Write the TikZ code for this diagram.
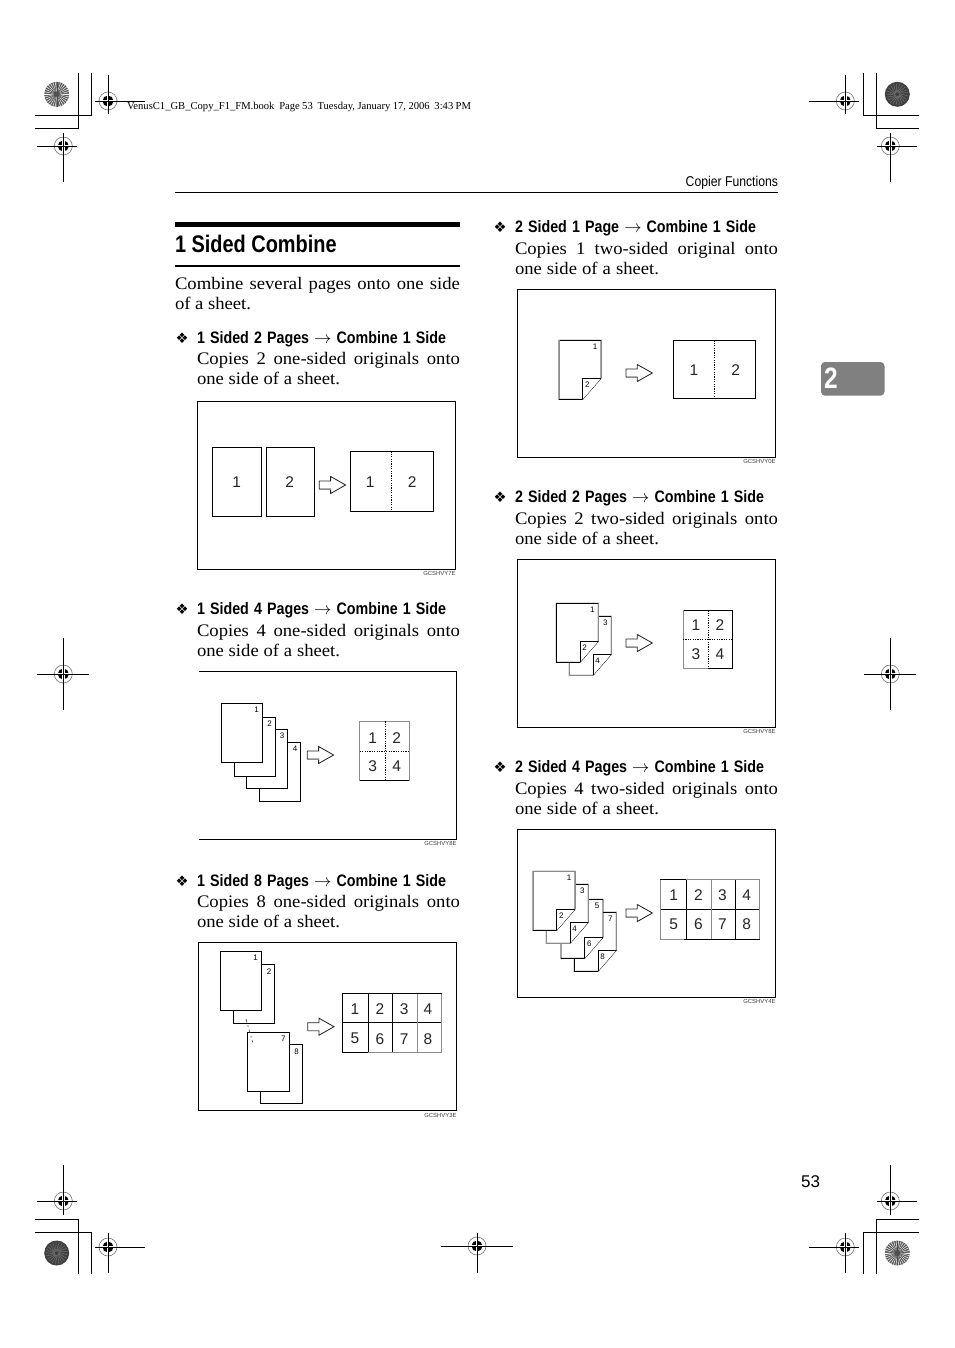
\documentclass[tikz,border=0pt]{standalone}
\usepackage{fontspec}
\newfontfamily\bodyf[FakeStretch=1.06]{Liberation Serif}
\newfontfamily\topf{Liberation Serif}
\newfontfamily\hdf[FakeStretch=.86]{Liberation Sans}
\newfontfamily\ttlf[FakeStretch=.83]{Liberation Sans}
\newfontfamily\numf{Liberation Sans}
\newfontfamily\symf{DejaVu Sans}
\definecolor{midgray}{HTML}{808080}
\definecolor{softgray}{HTML}{8A8A8A}
\tikzset{
  x=1pt,y=-1pt,
  txt/.style={inner sep=0pt,outer sep=0pt,anchor=base west,text=black},
  txtr/.style={inner sep=0pt,outer sep=0pt,anchor=base east,text=black},
  bignum/.style={inner sep=0pt,font=\numf\fontsize{15.5}{15.5}\selectfont,text=black!85},
  smallnum/.style={inner sep=0pt,font=\numf\fontsize{8}{8}\selectfont,text=black},
  codetxt/.style={inner sep=0pt,anchor=east,font=\numf\fontsize{5.9}{5.9}\selectfont,text=black!75},
  frameline/.style={draw=black,line width=.9pt},
  pageline/.style={draw=black,line width=.9pt,fill=white,line join=miter},
  resline/.style={draw=black,line width=.8pt},
  dotline/.style={draw=black,line width=.8pt,dash pattern=on 1.2pt off 1.2pt},
  cropline/.style={draw=black,line width=.8pt},
  arrowshape/.style={draw=black!85,line width=.85pt,fill=white,line join=miter},
  softedge/.style={draw=softgray,line width=1pt},
}
% plain page: x y w h
\newcommand{\pg}[4]{\draw[pageline] (#1,#2) rectangle (#1+#3,#2+#4);}
% two-sided page with turned corner: x y name front back
\newcommand{\flip}[5]{%
  \draw[pageline] (#1,#2) -- (#1+42,#2) -- (#1+42,#2+38) -- (#1+23.7,#2+59) -- (#1,#2+59) -- cycle;
  \draw[pageline] (#1+23.7,#2+59) -- (#1+23.7,#2+38) -- (#1+42,#2+38);
  \node[smallnum] (#3a) at (#1+36,#2+6.3) {#4};
  \node[smallnum] (#3b) at (#1+28.3,#2+44.3) {#5};
}
\newcommand{\fatarrow}[2]{%
  \draw[arrowshape] (#1,#2-4) -- (#1+11.3,#2-4) -- (#1+11.3,#2-8.5) -- (#1+26.3,#2) -- (#1+11.3,#2+8.5) -- (#1+11.3,#2+4) -- (#1,#2+4) -- cycle;
  \draw[softedge] (#1,#2+4) -- (#1+11.3,#2+4);
}
% registration mark: cx cy left right up down
\newcommand{\regmark}[6]{%
  \draw[line width=.6pt,draw=black!55] (#1,#2) circle (9);
  \fill[black] (#1,#2) circle (5.5);
  \draw[white,line width=2.4pt] (#1-5.8,#2) -- (#1+5.8,#2) (#1,#2-5.8) -- (#1,#2+5.8);
  \draw[cropline] (#1-#3,#2) -- (#1+#4,#2) (#1,#2-#5) -- (#1,#2+#6);
}
\newcommand{\burst}[2]{%
  \fill[black!55] (#1,#2) circle (12.5);
  \foreach \a in {0,12,...,348}{
    \draw[white,line width=.4pt] (#1,#2)++(\a:3) -- ++(\a:9.3);
  }
  \foreach \a in {6,18,...,354}{
    \draw[black!70,line width=.4pt] (#1,#2)++(\a:1) -- ++(\a:11.3);
  }
  \fill[black!70] (#1,#2) circle (1.2);
}
\newcommand{\darkdisc}[2]{%
  \fill[black!75] (#1,#2) circle (12.5);
  \foreach \a in {0,17,...,350}{
    \draw[black!55,line width=.5pt] (#1,#2)++(\a:2) -- ++(\a+35:9);
  }
}
% heading: name x baseline width text
\newcommand{\hdg}[5]{%
  \node[txt,font=\symf\fontsize{14.5}{14.5}\selectfont] (#1b) at (#2-21.5,#3) {^^^^2756};
  \node[txt,font=\hdf\bfseries\fontsize{16.6}{16.6}\selectfont] (#1h) at (#2,#3) {\makebox[#4pt][s]{#5}};
}
\newcommand{\bodyl}[5]{\node[txt,font=\bodyf\fontsize{17.6}{17.6}\selectfont] (#1) at (#2,#3) {\makebox[#4pt][s]{#5}};}
\newcommand{\arr}{{\fontsize{19}{19}\selectfont\mdseries$\rightarrow$}}
\begin{document}
\begin{tikzpicture}
\useasboundingbox (0,0) rectangle (954,1348);
\fill[white] (0,0) rectangle (954,1348);

% --- crop marks, corners
\draw[cropline] (35,115) -- (91,115) -- (91,73) (35,128) -- (78,128) -- (78,73);
\draw[cropline] (919,115) -- (863,115) -- (863,73) (919,128) -- (876,128) -- (876,73);
\draw[cropline] (35,1219) -- (78,1219) -- (78,1274) (35,1232) -- (91,1232) -- (91,1274);
\draw[cropline] (919,1219) -- (876,1219) -- (876,1274) (919,1232) -- (863,1232) -- (863,1274);
\burst{56.7}{94.3}
\darkdisc{897.3}{94.3}
\darkdisc{56.7}{1253}
\burst{897.3}{1253}
\regmark{108}{101}{13}{37}{26}{13}
\regmark{63.3}{146}{26}{14}{13}{36}
\regmark{845.3}{101}{36}{14}{26}{13}
\regmark{890.3}{146}{13}{27}{13}{36}
\regmark{63.3}{674}{26}{26}{36}{36}
\regmark{890.3}{674}{26}{26}{36}{36}
\regmark{63.3}{1201}{26}{14}{36}{14}
\regmark{108}{1247}{13}{37}{14}{26}
\regmark{477}{1246}{36}{36}{13}{27}
\regmark{845.3}{1247}{36}{14}{14}{26}
\regmark{890.3}{1201}{13}{27}{36}{14}

% --- page furniture
\node[txt,font=\topf\fontsize{10.6}{10.6}\selectfont] (booktag) at (127,109.5) {\makebox[344pt][s]{VenusC1\_GB\_Copy\_F1\_FM.book\ \ Page 53\ \ Tuesday, January 17, 2006\ \ 3:43 PM}};
\node[txtr,font=\hdf\fontsize{14.2}{14.2}\selectfont] (running) at (778,187) {Copier Functions};
\draw[black,line width=.9pt] (175,192.5) -- (778,192.5);
\fill[midgray,rounded corners=4pt] (821,362) rectangle (884.5,395.7);
\node[txt,font=\ttlf\bfseries\fontsize{29.5}{29.5}\selectfont,text=white] (tabnum) at (824,388.3) {2};
\node[txtr,font=\numf\fontsize{17}{17}\selectfont] (folio) at (820,1187) {53};

% --- title
\fill[black] (175,221.7) rectangle (460,227.3);
\node[txt,font=\ttlf\bfseries\fontsize{24}{24}\selectfont] (title) at (175,252.5) {1 Sided Combine};
\draw[black,line width=1.3pt] (175,266) -- (460,266);
\bodyl{intro1}{175}{289}{285}{Combine several pages onto one side}
\bodyl{intro2}{175}{309}{76}{of a sheet.}

% --- left column texts
\hdg{la}{197}{343.5}{249}{1 Sided 2 Pages \arr{} Combine 1 Side}
\bodyl{la1}{197}{364}{263}{Copies 2 one-sided originals onto}
\bodyl{la2}{197}{384}{143}{one side of a sheet.}
\hdg{lb}{197}{614.5}{249}{1 Sided 4 Pages \arr{} Combine 1 Side}
\bodyl{lb1}{197}{636}{263}{Copies 4 one-sided originals onto}
\bodyl{lb2}{197}{656}{143}{one side of a sheet.}
\hdg{lc}{197}{886.5}{249}{1 Sided 8 Pages \arr{} Combine 1 Side}
\bodyl{lc1}{197}{907.5}{263}{Copies 8 one-sided originals onto}
\bodyl{lc2}{197}{927.5}{143}{one side of a sheet.}

% --- right column texts
\hdg{ra}{515}{232.5}{241}{2 Sided 1 Page \arr{} Combine 1 Side}
\bodyl{ra1}{515}{254.5}{263}{Copies 1 two-sided original onto}
\bodyl{ra2}{515}{274}{144}{one side of a sheet.}
\hdg{rb}{515}{502.5}{249}{2 Sided 2 Pages \arr{} Combine 1 Side}
\bodyl{rb1}{515}{524}{263}{Copies 2 two-sided originals onto}
\bodyl{rb2}{515}{544}{144}{one side of a sheet.}
\hdg{rc}{515}{772.5}{249}{2 Sided 4 Pages \arr{} Combine 1 Side}
\bodyl{rc1}{515}{794}{263}{Copies 4 two-sided originals onto}
\bodyl{rc2}{515}{814}{144}{one side of a sheet.}

% --- diagram 1
\draw[frameline] (197.3,401.3) rectangle (455.7,569);
\node[codetxt] (c1) at (455.7,573) {GCSHVY7E};
\pg{212.3}{447.3}{49.4}{69}
\pg{266.3}{447.3}{48.4}{69}
\node[bignum] (d1a) at (236.7,481.7) {1};
\node[bignum] (d1b) at (289.7,481.7) {2};
\fatarrow{319.3}{485}
\draw[resline] (350.3,451.3) rectangle (433.3,511.3);
\draw[dotline] (391.3,451.3) -- (391.3,511.3);
\node[bignum] (d1c) at (370.3,481.7) {1};
\node[bignum] (d1d) at (412.3,481.7) {2};

% --- diagram 2 (left edge of frame absent)
\draw[frameline] (199,671.3) -- (456.7,671.3) -- (456.7,839) -- (199,839);
\node[codetxt] (c2) at (456.7,843.5) {GCSHVY8E};
\pg{259.3}{742.3}{41.4}{59}
\pg{246.3}{729.3}{41.4}{59}
\pg{234.3}{717.3}{41.4}{59}
\pg{221.3}{703.3}{41.4}{59}
\node[smallnum] (d2p1) at (256.7,710) {1};
\node[smallnum] (d2p2) at (269.7,723.3) {2};
\node[smallnum] (d2p3) at (282,735.3) {3};
\node[smallnum] (d2p4) at (295,748.7) {4};
\fatarrow{307.3}{755}
\draw[resline] (359.7,721.3) rectangle (409.7,780.7);
\draw[softedge] (359.7,721.3) -- (409.7,721.3) (359.7,721.3) -- (359.7,780.7) (409.7,721.3) -- (409.7,780.7);
\draw[dotline] (385.3,721.3) -- (385.3,780.7) (359.7,751) -- (409.7,751);
\node[bignum] (d2a) at (372.7,737.7) {1};
\node[bignum] (d2b) at (396.7,737.7) {2};
\node[bignum] (d2c) at (372.7,766) {3};
\node[bignum] (d2d) at (396.7,766) {4};

% --- diagram 3
\draw[frameline] (198.3,942.7) rectangle (456.7,1110.3);
\node[codetxt] (c3) at (456.7,1115.3) {GCSHVY3E};
\pg{233.3}{964.3}{41}{59}
\pg{220.3}{951.3}{41.4}{59}
\node[smallnum] (d3p1) at (255.7,958) {1};
\node[smallnum] (d3p2) at (269,971.7) {2};
\pg{260.3}{1044.3}{42}{59}
\pg{247.3}{1032.3}{42}{59}
\node[smallnum] (d3p7) at (283.3,1038.3) {7};
\node[smallnum] (d3p8) at (296.7,1051.7) {8};
\draw[black!70,line width=.7pt,dash pattern=on 3.5pt off 3pt on 1.5pt off 3pt] (246,1019) -- (252.7,1042.3);
\fatarrow{307.7}{1026.7}
\draw[resline] (342.3,993.7) rectangle (441.7,1052.3);
\draw[resline] (368.3,993.7) -- (368.3,1052.3) (392.3,993.7) -- (392.3,1052.3) (417,993.7) -- (417,1052.3) (342.3,1022.7) -- (441.7,1022.7);
\draw[softedge] (417,993.7) -- (417,1052.3) (441.7,993.7) -- (441.7,1052.3) (368.3,1052.3) -- (441.7,1052.3);
\foreach \n/\px/\py in {1/355/1008.7,2/380/1008.7,3/404.3/1008.7,4/428/1008.7,5/355/1038.7,6/380/1038.7,7/404.3/1038.7,8/428/1038.7}{
  \node[bignum] (d3n\n) at (\px,\py) {\n};
}

% --- diagram 4
\draw[frameline] (517.3,289.3) rectangle (775.7,457.3);
\node[codetxt] (c4) at (775.7,461.3) {GCSHVY0E};
\flip{559}{340.3}{d4p}{1}{2}
\draw[softedge] (559,340.3) -- (559,399.3) (601,340.3) -- (601,378.3);
\fatarrow{626}{373}
\draw[resline] (673.3,340.3) rectangle (755.7,398.7);
\draw[dotline] (714.3,340.3) -- (714.3,398.7);
\node[bignum] (d4a) at (694,370) {1};
\node[bignum] (d4b) at (735.7,370) {2};

% --- diagram 5
\draw[frameline] (517.3,559.3) rectangle (775.7,727.3);
\node[codetxt] (c5) at (775.7,731.3) {GCSHVY8E};
\flip{569.3}{616.3}{d5q}{3}{4}
\draw[softedge] (569.3,662.3) -- (569.3,675.3) -- (593,675.3) (611.3,616.3) -- (611.3,654.3);
\flip{556.3}{603.3}{d5p}{1}{2}
\draw[softedge] (598.3,603.3) -- (598.3,641.3);
\fatarrow{626}{643}
\draw[resline] (683,610.3) rectangle (732.7,668.7);
\draw[softedge] (683,610.3) -- (683,668.7) -- (708,668.7);
\draw[dotline] (708.7,610.3) -- (708.7,668.7) (683,639) -- (732.7,639);
\node[bignum] (d5a) at (696,625) {1};
\node[bignum] (d5b) at (720,625) {2};
\node[bignum] (d5c) at (696,654) {3};
\node[bignum] (d5d) at (720,654) {4};

% --- diagram 6
\draw[frameline] (517.3,829.3) rectangle (775.7,997.3);
\node[codetxt] (c6) at (775.7,1001.3) {GCSHVY4E};
\flip{574.3}{912.3}{d6s}{7}{8}
\draw[softedge] (616.3,912.3) -- (616.3,950.3);
\flip{561}{899.3}{d6r}{5}{6}
\flip{546.3}{884.3}{d6q}{3}{4}
\draw[softedge] (546.3,930.3) -- (546.3,943.3) -- (570,943.3) (588.3,884.3) -- (588.3,922.3);
\flip{533}{871.3}{d6p}{1}{2}
\draw[softedge] (533,871.3) -- (533,930.3) (533,871.3) -- (575,871.3) -- (575,909.3);
\fatarrow{626}{913}
\draw[resline] (660.7,879.7) rectangle (759.7,939);
\draw[resline] (686.3,879.7) -- (686.3,939) (711,879.7) -- (711,939) (735.7,879.7) -- (735.7,939) (660.7,909.3) -- (759.7,909.3);
\draw[softedge] (660.7,879.7) -- (660.7,939) -- (684,939) (711,879.7) -- (711,939) (686.3,879.7) -- (759.7,879.7) (759.7,879.7) -- (759.7,939);
\foreach \n/\px/\py in {1/673.7/895.3,2/698.3/895.3,3/722.3/895.3,4/746.7/895.3,5/673.7/924.3,6/698.3/924.3,7/722.3/924.3,8/746.7/924.3}{
  \node[bignum] (d6n\n) at (\px,\py) {\n};
}
\end{tikzpicture}
\end{document}
